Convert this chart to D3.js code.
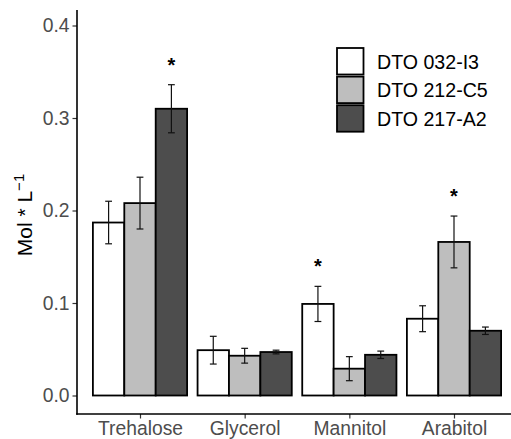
<!DOCTYPE html>
<html>
<head>
<meta charset="utf-8" />
<title>Polyols per strain</title>
<style>
  body { margin: 0; background: #fff; }
  text { font-family: "Liberation Sans", Arial, sans-serif; }
</style>
</head>
<body>
<svg id="chart" width="511" height="439"></svg>
<script src="https://d3js.org/d3.v7.min.js"></script>
<script>
// ---- data ----
var categories = ["Trehalose", "Glycerol", "Mannitol", "Arabitol"];
var strains = ["DTO 032-I3", "DTO 212-C5", "DTO 217-A2"];
var fills = ["#FFFFFF", "#BEBEBE", "#4D4D4D"];

// mean values per strain, in category order
var means032 = [0.187, 0.049, 0.099, 0.083];
var means212 = [0.208, 0.043, 0.029, 0.166];
var means217 = [0.310, 0.047, 0.044, 0.070];

// error (+/-) per strain
var err032 = [0.023, 0.015, 0.019, 0.014];
var err212 = [0.028, 0.008, 0.013, 0.028];
var err217 = [0.026, 0.002, 0.004, 0.004];

// significance marks: [category, strain]
var stars = [["Trehalose", "DTO 217-A2"], ["Mannitol", "DTO 032-I3"], ["Arabitol", "DTO 212-C5"]];

var yTicks = [0.0, 0.1, 0.2, 0.3, 0.4];

// ---- build rows ----
var allMeans = [means032, means212, means217];
var allErr = [err032, err212, err217];
var rows = [];
categories.forEach(function(c, i) {
  strains.forEach(function(s, j) {
    rows.push({cat: c, strain: s, mean: allMeans[j][i], err: allErr[j][i]});
  });
});

var svg = d3.select("#chart");

var x = d3.scalePoint().domain(categories).range([77.2, 516.8]).padding(0.6);
var step = x.step();
var xs = d3.scaleBand().domain(strains).range([-0.45 * step, 0.45 * step]);
var y = d3.scaleLinear().domain([0, 0.4]).range([395.5, 25.5]);
var fill = d3.scaleOrdinal().domain(strains).range(fills);

// bars
svg.append("g").selectAll("rect").data(rows).join("rect")
  .attr("x", function(d) { return x(d.cat) + xs(d.strain); })
  .attr("y", function(d) { return y(d.mean); })
  .attr("width", xs.bandwidth())
  .attr("height", function(d) { return y(0) - y(d.mean); })
  .attr("fill", function(d) { return fill(d.strain); })
  .attr("stroke", "#000")
  .attr("stroke-width", 1.8);

// error bars
var capW = 3.4;
var eb = svg.append("g").attr("stroke", "#111").attr("stroke-width", 1.2)
  .selectAll("g").data(rows).join("g")
  .attr("transform", function(d) { return "translate(" + (x(d.cat) + xs(d.strain) + xs.bandwidth() / 2) + ",0)"; });
eb.append("line")
  .attr("y1", function(d) { return y(d.mean + d.err); })
  .attr("y2", function(d) { return y(d.mean - d.err); });
eb.append("line").attr("x1", -capW).attr("x2", capW)
  .attr("y1", function(d) { return y(d.mean + d.err); })
  .attr("y2", function(d) { return y(d.mean + d.err); });
eb.append("line").attr("x1", -capW).attr("x2", capW)
  .attr("y1", function(d) { return y(d.mean - d.err); })
  .attr("y2", function(d) { return y(d.mean - d.err); });

// asterisks
svg.append("g").selectAll("text").data(stars).join("text")
  .attr("x", function(d) { return x(d[0]) + xs(d[1]) + xs.bandwidth() / 2; })
  .attr("y", function(d) {
    var r = rows.find(function(o) { return o.cat === d[0] && o.strain === d[1]; });
    return y(r.mean + r.err) - 13;
  })
  .attr("text-anchor", "middle")
  .attr("font-size", 20)
  .attr("font-weight", "bold")
  .attr("fill", "#000")
  .text("*");

// y axis
var yAxis = svg.append("g").attr("transform", "translate(77,0)")
  .call(d3.axisLeft(y).tickValues(yTicks).tickFormat(d3.format(".1f")).tickSize(4.5).tickPadding(3));
yAxis.select(".domain").remove();
yAxis.selectAll(".tick line").attr("stroke", "#333").attr("stroke-width", 1.2);
yAxis.selectAll(".tick text").attr("fill", "#4D4D4D").attr("font-size", 19.3)
  .attr("font-family", "Liberation Sans, Arial, sans-serif");
svg.append("line").attr("x1", 77).attr("x2", 77).attr("y1", 10).attr("y2", 414.8)
  .attr("stroke", "#000").attr("stroke-width", 1.6);

// x axis
var xAxis = svg.append("g").attr("transform", "translate(0,414)")
  .call(d3.axisBottom(x).tickSize(4.5).tickPadding(3));
xAxis.select(".domain").remove();
xAxis.selectAll(".tick line").attr("stroke", "#333").attr("stroke-width", 1.2);
xAxis.selectAll(".tick text").attr("fill", "#4D4D4D").attr("font-size", 19.3)
  .attr("font-family", "Liberation Sans, Arial, sans-serif");
svg.append("line").attr("x1", 76.2).attr("x2", 511).attr("y1", 414).attr("y2", 414)
  .attr("stroke", "#000").attr("stroke-width", 1.6);

// y title
var yt = svg.append("text")
  .attr("transform", "translate(32,215) rotate(-90)")
  .attr("text-anchor", "middle")
  .attr("font-size", 21)
  .attr("fill", "#000");
yt.append("tspan").text("Mol * L");
yt.append("tspan").attr("dy", -8.5).attr("font-size", 15).text("\u22121");

// legend
var leg = svg.append("g").attr("transform", "translate(337,48)");
var li = leg.selectAll("g").data(strains).join("g")
  .attr("transform", function(d, i) { return "translate(0," + (i * 28.6) + ")"; });
li.append("rect").attr("width", 26.5).attr("height", 26.5)
  .attr("fill", function(d) { return fill(d); })
  .attr("stroke", "#000").attr("stroke-width", 1.8);
li.append("text").attr("x", 40).attr("y", 13.5).attr("dy", "0.36em")
  .attr("font-size", 19.6).attr("fill", "#000")
  .text(function(d) { return d; });
</script>
</body>
</html>
